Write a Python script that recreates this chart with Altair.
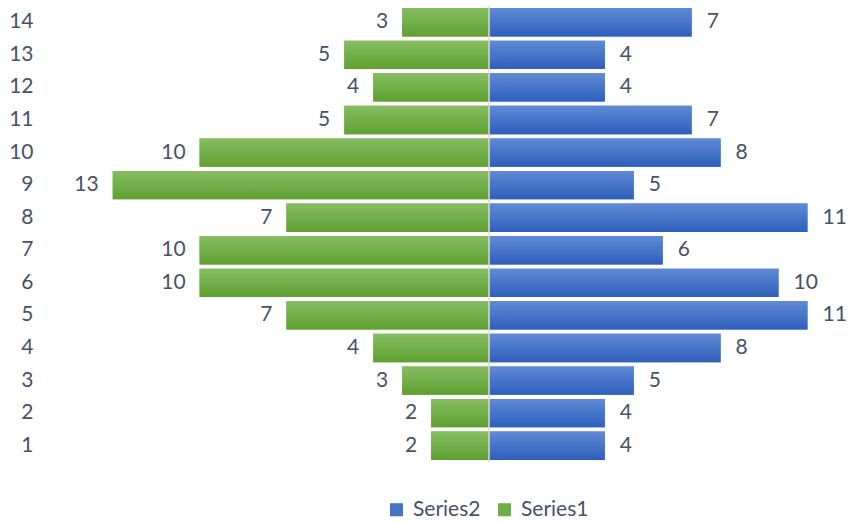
import altair as alt
import pandas as pd

# Category rows and the two series plotted back to back
categories = list(range(1, 15))
series1 = [2, 2, 3, 4, 7, 10, 10, 7, 13, 10, 5, 4, 5, 3]
series2 = [4, 4, 5, 8, 11, 10, 6, 11, 5, 8, 7, 4, 4, 7]

rows = []
for c, a, b in zip(categories, series1, series2):
    rows.append({"cat": c, "series": "Series1", "value": a, "pos": -a})
    rows.append({"cat": c, "series": "Series2", "value": b, "pos": b})
df = pd.DataFrame(rows)

FONT = "Lato"
TEXT = "#475265"
FS = 21

x_scale = alt.Scale(domain=[-15.34, 12.47], nice=False, zero=False)
y_enc = alt.Y(
    "cat:O",
    sort="descending",
    scale=alt.Scale(paddingInner=0.13, paddingOuter=0.065),
    axis=alt.Axis(
        title=None, domain=False, ticks=False, labelPadding=12,
        labelFontSize=FS, labelFont=FONT, labelColor=TEXT,
    ),
)

green = alt.LinearGradient(
    gradient="linear", x1=0, y1=0, x2=0, y2=1,
    stops=[alt.GradientStop(offset=0, color="#86bd62"),
           alt.GradientStop(offset=1, color="#60a031")],
)
blue = alt.LinearGradient(
    gradient="linear", x1=0, y1=0, x2=0, y2=1,
    stops=[alt.GradientStop(offset=0, color="#5f8ad5"),
           alt.GradientStop(offset=1, color="#2e5fbb")],
)

base = alt.Chart(df)

# Solid bars carry the legend; gradient bars are drawn over them
legend_bars = base.mark_bar().encode(
    x=alt.X("pos:Q", scale=x_scale, axis=None),
    x2=alt.datum(0),
    y=y_enc,
    color=alt.Color(
        "series:N",
        scale=alt.Scale(domain=["Series2", "Series1"], range=["#4472c4", "#70ad47"]),
        legend=alt.Legend(
            title=None, orient="none", direction="horizontal",
            legendX=341, legendY=493, symbolType="square", symbolSize=170,
            labelFontSize=FS, labelFont=FONT, labelColor=TEXT,
            columnPadding=13, labelOffset=6,
        ),
    ),
)

s1 = base.transform_filter(alt.datum.series == "Series1")
s2 = base.transform_filter(alt.datum.series == "Series2")

bars1 = s1.mark_bar(fill=green).encode(
    x=alt.X("pos:Q", scale=x_scale), x2=alt.datum(0), y=y_enc
)
bars2 = s2.mark_bar(fill=blue).encode(
    x=alt.X("pos:Q", scale=x_scale), x2=alt.datum(0), y=y_enc
)

text1 = s1.mark_text(align="right", dx=-14, fontSize=FS, font=FONT, color=TEXT).encode(
    x=alt.X("pos:Q", scale=x_scale), y=y_enc, text="value:Q"
)
text2 = s2.mark_text(align="left", dx=15, fontSize=FS, font=FONT, color=TEXT).encode(
    x=alt.X("pos:Q", scale=x_scale), y=y_enc, text="value:Q"
)

# Vertical category axis line at zero
zero_line = alt.Chart(pd.DataFrame({"z": [0]})).mark_rule(
    color="#d9d9d9", strokeWidth=1.5
).encode(x=alt.X("z:Q", scale=x_scale))

chart = alt.layer(
    legend_bars, bars1, bars2, zero_line, text1, text2
).properties(
    width=805, height=456,
    autosize=alt.AutoSizeParams(type="none"),
    padding={"left": 45, "top": 6, "right": 0, "bottom": 60},
).configure(background="white").configure_view(strokeWidth=0, strokeOpacity=0)

chart.save("out.html", embed_options={"renderer": "svg", "actions": False})
